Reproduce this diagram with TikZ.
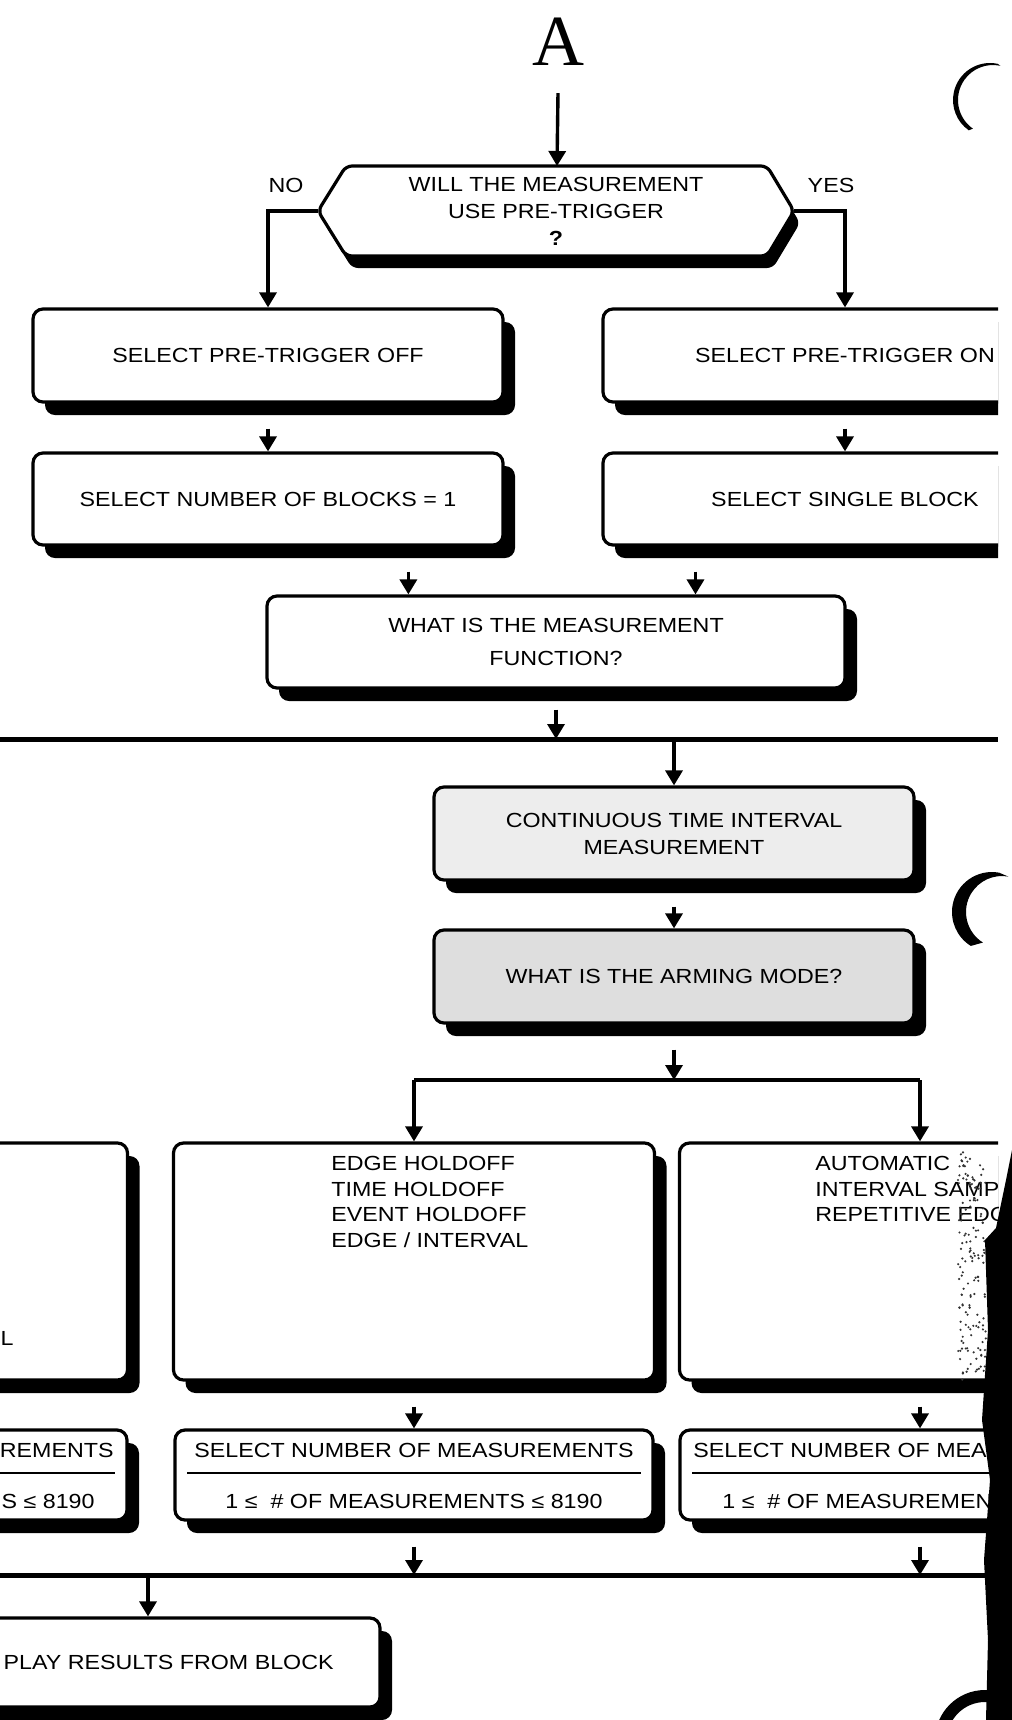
\documentclass[tikz,border=0pt]{standalone}
\usepackage{fontspec}
\setmainfont{Liberation Sans}[FakeStretch=1.14]
\newfontfamily\letterfont{Liberation Serif}
\usetikzlibrary{arrows.meta,shadows,calc,positioning}

\begin{document}
\begin{tikzpicture}[x=0.5pt, y=-0.5pt,
    font=\fontsize{10.2pt}{13.5pt}\selectfont,
    stepbox/.style={draw, line width=1.6pt, rounded corners=5pt, fill=white,
      inner sep=0pt, align=center,
      drop shadow={shadow xshift=6pt, shadow yshift=-6.5pt, fill=black, opacity=1}},
    flow/.style={line width=1.7pt, -{Triangle[width=8.5pt,length=7.5pt]}},
    offbox/.style={shorten <=12.5pt},
    bus/.style={line width=2.5pt},
    rule/.style={line width=1.4pt}]
  \useasboundingbox (0,0) rectangle (1012,1720);
  \clip (0,0) rectangle (1012,1720);
  \begin{scope}
    \clip (0,0) rectangle (998,1720);
    % entry point and pre-trigger question
    \node[font=\letterfont\fontsize{36pt}{36pt}\selectfont, inner sep=0pt] (letA) at (558,42) {A};
    \draw[line width=1.6pt, fill=white, rounded corners=3pt,
      drop shadow={shadow xshift=3pt, shadow yshift=-6pt, fill=black, opacity=1}]
      (346,166) -- (767,166) -- (794,211) -- (767,256) -- (346,256) -- (318,211) -- cycle;
    \node[align=center] (pretrig) at (556,211) {WILL THE MEASUREMENT\\USE PRE-TRIGGER\\\textbf{?}};
    \coordinate (hexN) at (557,166);
    \coordinate (hexW) at (318,211);
    \coordinate (hexE) at (794,211);
    \node (nolbl) at (286,185) {NO};
    \node (yeslbl) at (831,185) {YES};

    % trigger and block selection
    \node[stepbox, minimum width=235pt, minimum height=46.5pt] (trigoff) at (268,355.5) {SELECT PRE-TRIGGER OFF};
    \node[stepbox, minimum width=242pt, minimum height=46.5pt] (trigon) at (845,355.5) {SELECT PRE-TRIGGER ON};
    \node[stepbox, minimum width=235pt, minimum height=46pt] (blockone) at (268,499) {SELECT NUMBER OF BLOCKS = 1};
    \node[stepbox, minimum width=242pt, minimum height=46pt] (blocksingle) at (845,499) {SELECT SINGLE BLOCK};
    \node[stepbox, minimum width=289pt, minimum height=46pt,
      font=\fontsize{10.2pt}{16.5pt}\selectfont] (mfunc) at (556,642) {WHAT IS THE MEASUREMENT\\FUNCTION?};
    \coordinate (mfuncL) at ($(mfunc.north west)!0.246!(mfunc.north east)$);
    \coordinate (mfuncR) at ($(mfunc.north west)!0.74!(mfunc.north east)$);
    \coordinate (busW) at (0,739);
    \coordinate (busE) at (998,739);

    % time interval branch
    \node[stepbox, fill=black!7, minimum width=240pt, minimum height=46.5pt] (ctim) at (674,833.5) {CONTINUOUS TIME INTERVAL\\MEASUREMENT};
    \node[stepbox, fill=black!13, minimum width=240pt, minimum height=46.5pt] (armmode) at (674,976.5) {WHAT IS THE ARMING MODE?};
    \coordinate (brkW) at (414,1080);
    \coordinate (brkE) at (920,1080);

    % arming modes
    \node[stepbox, minimum width=240.5pt, minimum height=118.5pt] (modeleft) at (-113,1261.5) {};
    \node[stepbox, minimum width=240.5pt, minimum height=118.5pt] (modehold) at (414,1261.5) {};
    \node[stepbox, minimum width=240.5pt, minimum height=118.5pt] (modeauto) at (920,1261.5) {};
    \node[anchor=east, inner sep=0pt] (leftlast) at (14,1338) {L};
    \node[anchor=north west, align=left, inner sep=0pt,
      font=\fontsize{10.2pt}{12.75pt}\selectfont] (holdlist) at (331,1156)
      {EDGE HOLDOFF\\TIME HOLDOFF\\EVENT HOLDOFF\\EDGE / INTERVAL};
    \node[anchor=north west, align=left, inner sep=0pt,
      font=\fontsize{10.2pt}{12.75pt}\selectfont] (autolist) at (815,1156)
      {AUTOMATIC\\INTERVAL SAMP\\REPETITIVE EDG};

    % number of measurements
    \node[stepbox, minimum width=240pt, minimum height=45pt] (countleft) at (-113,1475) {};
    \node[stepbox, minimum width=239pt, minimum height=45pt] (counthold) at (414,1475) {};
    \node[stepbox, minimum width=240pt, minimum height=45pt] (countauto) at (920,1475) {};
    \node[anchor=east, inner sep=0pt] (countlefttop) at (114,1450) {REMENTS};
    \node[anchor=east, inner sep=0pt] (countleftbot) at (95,1501) {S ≤ 8190};
    \node (countholdtop) at (414,1450) {SELECT NUMBER OF MEASUREMENTS};
    \node (countholdbot) at (414,1501) {1 ≤\ \ \# OF MEASUREMENTS ≤ 8190};
    \node[anchor=west, inner sep=0pt] (countautotop) at (693,1450) {SELECT NUMBER OF MEAS};
    \node[anchor=west, inner sep=0pt] (countautobot) at (722,1501) {1 ≤\ \ \# OF MEASUREMENT};
    \draw[rule] ([xshift=-7pt]countleft.east |- 0,1473) -- (0,1473);
    \draw[rule] ([xshift=7pt]counthold.west |- 0,1473) -- ([xshift=-7pt]counthold.east |- 0,1473);
    \draw[rule] ([xshift=7pt]countauto.west |- 0,1473) -- (998,1473);
    \coordinate (lowW) at (0,1575);
    \coordinate (lowE) at (998,1575);
    \node[stepbox, minimum width=232pt, minimum height=44.5pt] (display) at (148,1662.5) {};
    \node[anchor=east, inner sep=0pt] (displaytext) at (334,1662) {PLAY RESULTS FROM BLOCK};

    % connectors
    \draw[flow] ([yshift=-13.5pt]letA.south) -- (hexN);
    \draw[flow] (hexW) -| (trigoff.north);
    \draw[flow] (hexE) -| (trigon.north);
    \draw[flow, offbox] (trigoff) -- (blockone);
    \draw[flow, offbox] (trigon) -- (blocksingle);
    \draw[flow, offbox] (blockone.south -| mfuncL) -- (mfuncL);
    \draw[flow, offbox] (blocksingle.south -| mfuncR) -- (mfuncR);
    \draw[flow, shorten <=10pt] (mfunc.south) -- (mfunc.south |- busW);
    \draw[bus] (busW) -- (busE);
    \draw[flow] (ctim.north |- busW) -- (ctim.north);
    \draw[flow, offbox] (ctim) -- (armmode);
    \draw[flow, offbox] (armmode.south) -- (armmode.south |- brkW);
    \draw[line width=1.7pt] (brkW) -- (brkE);
    \draw[flow] (brkW) -- (brkW |- modehold.north);
    \draw[flow] (brkE) -- (brkE |- modeauto.north);
    \draw[flow, offbox] (modehold) -- (counthold);
    \draw[flow, offbox] (modeauto) -- (countauto);
    \draw[flow, offbox] (counthold.south) -- (counthold.south |- lowW);
    \draw[flow, offbox] (countauto.south) -- (countauto.south |- lowW);
    \draw[bus] (lowW) -- (lowE);
    \draw[flow] (display.north |- lowW) -- (display.north);
  \end{scope}
  % punch-hole marks and dark scan edge
  \fill (990,100) ++(78:18.5pt) arc[start angle=78, end angle=235, radius=18.5pt]
    -- ($(993,100)+(235:17.5pt)$) arc[start angle=235, end angle=78, radius=17.5pt] -- cycle;
  \fill (992,912) ++(80:20pt) arc[start angle=80, end angle=238, radius=20pt]
    -- ($(1002,912)+(238:18pt)$) arc[start angle=238, end angle=80, radius=18pt] -- cycle;
  \pgfmathsetseed{7}
  \foreach \k in {1,...,160}
    \fill[black!80] ({958+28*rnd},{1150+230*rnd}) circle[radius=0.6pt];
  \fill (1012,1150) -- (1006,1180) -- (996,1228) -- (985,1240) -- (988,1330) -- (982,1420)
    -- (990,1480) -- (984,1560) -- (988,1640) -- (986,1720) -- (1012,1720) -- cycle;
  \draw[line width=6pt] (985,1740) circle[radius=22pt];
\end{tikzpicture}
\end{document}
